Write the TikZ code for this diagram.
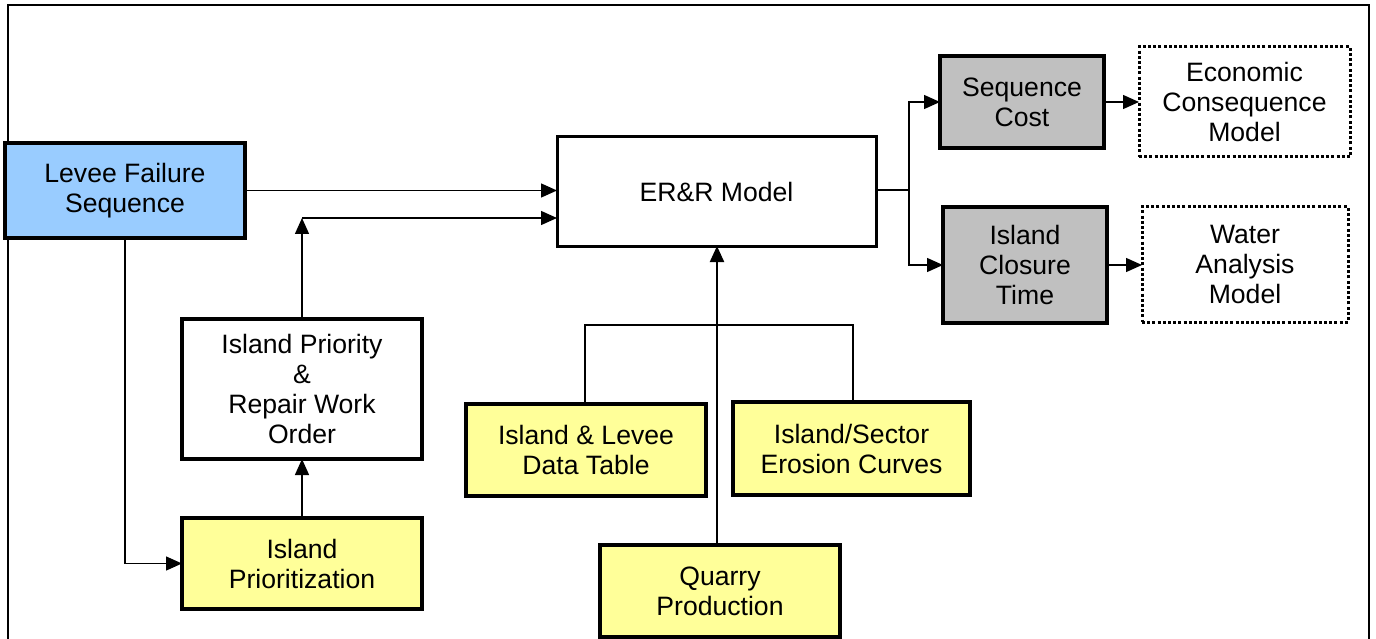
\documentclass[tikz,border=0pt]{standalone}
\usepackage{fontspec}
\setmainfont{Liberation Sans}
\usetikzlibrary{arrows.meta}

\definecolor{leveeblue}{HTML}{99CCFF}
\definecolor{outgray}{HTML}{C0C0C0}
\definecolor{inyellow}{HTML}{FFFF99}

\tikzset{
  box/.style={draw=black, line width=3.2pt, align=center, inner sep=0pt, outer sep=0pt,
    font=\fontsize{26.6}{30}\selectfont},
  dotbox/.style={box, line width=3pt, dash pattern=on 3pt off 2.2pt},
  arr/.style={line width=1.4pt, -{Triangle[length=16pt,width=14pt]}},
  link/.style={line width=1.4pt},
  frameline/.style={line width=1.8pt},
}

\begin{document}
\begin{tikzpicture}[x=1pt,y=-1pt]
\useasboundingbox (0,0) rectangle (1376,639);

% outer frame, open at the foot
\draw[frameline] (8,639) -- (8,5) -- (1369,5) -- (1369,639);

% boxes
\node[box, fill=leveeblue, minimum width=240pt, minimum height=95pt] (levee) at (125,190.5) {Levee Failure\\Sequence};
\node[box, fill=white, line width=3pt, minimum width=319pt, minimum height=109pt] (err) at (716.5,191.5) {ER\&R Model};
\node[box, fill=outgray, minimum width=164pt, minimum height=92pt] (cost) at (1022,102) {Sequence\\Cost};
\node[dotbox, minimum width=211pt, minimum height=110pt] (econ) at (1244.5,102) {Economic\\Consequence\\Model};
\node[box, fill=outgray, minimum width=164pt, minimum height=116pt] (closure) at (1025,265) {Island\\Closure\\Time};
\node[dotbox, minimum width=206pt, minimum height=115pt] (water) at (1245,264.5) {Water\\Analysis\\Model};
\node[box, fill=white, minimum width=240pt, minimum height=140pt] (prio) at (302,389) {Island Priority\\\&\\Repair Work\\Order};
\node[box, fill=inyellow, minimum width=240pt, minimum height=91pt] (iprio) at (302,563.5) {Island\\Prioritization};
\node[box, fill=inyellow, minimum width=240pt, minimum height=92pt] (table) at (586,450) {Island \& Levee\\Data Table};
\node[box, fill=inyellow, minimum width=237pt, minimum height=93pt] (erosion) at (851.5,448.5) {Island/Sector\\Erosion Curves};
\node[box, fill=inyellow, minimum width=240pt, minimum height=92pt] (quarry) at (720,591) {Quarry\\Production};

% junction points
\coordinate (jn) at (302,218);
\coordinate (bar) at (717,325);
\coordinate (split) at (909,190);

% inputs to the model
\draw[arr] (levee.east) -- (levee.east -| err.west);
\draw[arr] (prio.north) -- (jn);
\draw[arr] (jn) -- (jn -| err.west);
\draw[arr] (levee.south -| 125,0) |- (iprio.west);
\draw[arr] (iprio.north) -- (prio.south);

% data sources feeding the model from below
\draw[link] (table.north -| 585,0) -- (585,325) -- (853,325) -- (erosion.north -| 853,0);
\draw[link] (bar |- quarry.north) -- (bar);
\draw[arr, line width=2.2pt] (bar) -- (bar |- err.south);

% model outputs
\draw[link] (err.east |- split) -- (split);
\draw[arr] (split) |- (cost.west);
\draw[arr] (split) |- (closure.west);
\draw[arr] (cost.east) -- (cost.east -| econ.west);
\draw[arr] (closure.east) -- (closure.east -| water.west);
\end{tikzpicture}
\end{document}
